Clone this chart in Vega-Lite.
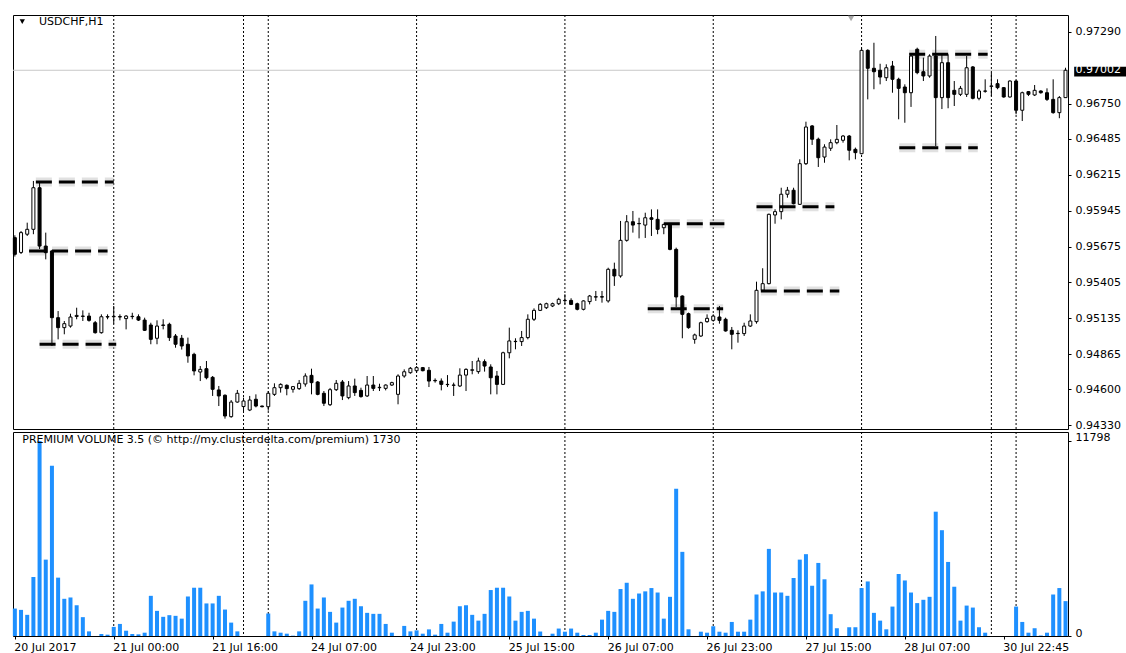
{
  "$schema": "https://vega.github.io/schema/vega-lite/v6.json",
  "padding": {"left": 12, "top": 14, "right": 0, "bottom": 0},
  "background": "white",
  "spacing": 3,
  "bounds": "flush",
  "config": {
    "view": {"stroke": "black", "strokeWidth": 1},
    "font": "DejaVu Sans",
    "axis": {"labelFont": "DejaVu Sans", "labelFontSize": 11, "labelColor": "black", "tickColor": "black", "tickSize": 3, "domain": false, "grid": false}
  },
  "datasets": {
    "bars": [
      {"i":0,"o":0.95742,"h":0.9576,"l":0.956,"c":0.95617,"v":1660},
      {"i":1,"o":0.95631,"h":0.95792,"l":0.95619,"c":0.9578,"v":1580},
      {"i":2,"o":0.95768,"h":0.95855,"l":0.95755,"c":0.95805,"v":1280},
      {"i":3,"o":0.95805,"h":0.96169,"l":0.95768,"c":0.96118,"v":3570},
      {"i":4,"o":0.96118,"h":0.96156,"l":0.95657,"c":0.95679,"v":11798},
      {"i":5,"o":0.95679,"h":0.9578,"l":0.95579,"c":0.95629,"v":4620},
      {"i":6,"o":0.95642,"h":0.9565,"l":0.94927,"c":0.9514,"v":10300},
      {"i":7,"o":0.9514,"h":0.9519,"l":0.94977,"c":0.95065,"v":3530},
      {"i":8,"o":0.95065,"h":0.95115,"l":0.95015,"c":0.95095,"v":2250},
      {"i":9,"o":0.95077,"h":0.9517,"l":0.95065,"c":0.95145,"v":2330},
      {"i":10,"o":0.95149,"h":0.95215,"l":0.95128,"c":0.95157,"v":1860},
      {"i":11,"o":0.95152,"h":0.95195,"l":0.95115,"c":0.9515,"v":1140},
      {"i":12,"o":0.95152,"h":0.95177,"l":0.9511,"c":0.9512,"v":280},
      {"i":13,"o":0.95102,"h":0.95115,"l":0.9502,"c":0.95027,"v":0},
      {"i":14,"o":0.95027,"h":0.95165,"l":0.9502,"c":0.95147,"v":120},
      {"i":15,"o":0.95145,"h":0.95165,"l":0.95128,"c":0.95148,"v":80},
      {"i":16,"o":0.95147,"h":0.95228,"l":0.95095,"c":0.9515,"v":550},
      {"i":17,"o":0.95148,"h":0.95165,"l":0.9512,"c":0.95145,"v":730},
      {"i":18,"o":0.95133,"h":0.9516,"l":0.95052,"c":0.95152,"v":320},
      {"i":19,"o":0.95148,"h":0.95177,"l":0.95128,"c":0.9515,"v":120},
      {"i":20,"o":0.95147,"h":0.95165,"l":0.95115,"c":0.95122,"v":100},
      {"i":21,"o":0.95122,"h":0.9514,"l":0.9504,"c":0.95045,"v":200},
      {"i":22,"o":0.95085,"h":0.95102,"l":0.9494,"c":0.94977,"v":2430},
      {"i":23,"o":0.94985,"h":0.9512,"l":0.9494,"c":0.95077,"v":1520},
      {"i":24,"o":0.95085,"h":0.95128,"l":0.95052,"c":0.95082,"v":1160},
      {"i":25,"o":0.9509,"h":0.95102,"l":0.94965,"c":0.9499,"v":1260},
      {"i":26,"o":0.95002,"h":0.95017,"l":0.94914,"c":0.9494,"v":1220},
      {"i":27,"o":0.94985,"h":0.9501,"l":0.949,"c":0.94927,"v":1050},
      {"i":28,"o":0.9494,"h":0.9499,"l":0.94801,"c":0.94852,"v":2390},
      {"i":29,"o":0.94864,"h":0.94876,"l":0.94706,"c":0.94739,"v":2920},
      {"i":30,"o":0.94731,"h":0.94776,"l":0.94663,"c":0.94751,"v":2920},
      {"i":31,"o":0.94756,"h":0.94814,"l":0.94676,"c":0.94688,"v":1970},
      {"i":32,"o":0.94691,"h":0.94701,"l":0.94551,"c":0.94601,"v":1970},
      {"i":33,"o":0.94596,"h":0.94626,"l":0.94475,"c":0.94551,"v":2430},
      {"i":34,"o":0.94556,"h":0.94563,"l":0.9438,"c":0.944,"v":1600},
      {"i":35,"o":0.94395,"h":0.9452,"l":0.94387,"c":0.94505,"v":810},
      {"i":36,"o":0.94505,"h":0.94596,"l":0.945,"c":0.94571,"v":280},
      {"i":37,"o":0.94471,"h":0.94538,"l":0.94437,"c":0.94513,"v":0},
      {"i":38,"o":0.94445,"h":0.94551,"l":0.94437,"c":0.9452,"v":0},
      {"i":39,"o":0.94526,"h":0.94563,"l":0.94465,"c":0.94475,"v":0},
      {"i":40,"o":0.94475,"h":0.94478,"l":0.94465,"c":0.9447,"v":0},
      {"i":41,"o":0.9447,"h":0.94588,"l":0.9444,"c":0.94571,"v":1360},
      {"i":42,"o":0.94563,"h":0.94646,"l":0.94551,"c":0.94613,"v":280},
      {"i":43,"o":0.94613,"h":0.94646,"l":0.94576,"c":0.94638,"v":200},
      {"i":44,"o":0.94631,"h":0.94638,"l":0.94556,"c":0.94606,"v":140},
      {"i":45,"o":0.94601,"h":0.94626,"l":0.94576,"c":0.94621,"v":20},
      {"i":46,"o":0.94606,"h":0.94671,"l":0.94596,"c":0.94646,"v":280},
      {"i":47,"o":0.94641,"h":0.94721,"l":0.94621,"c":0.94701,"v":2130},
      {"i":48,"o":0.94706,"h":0.94756,"l":0.94563,"c":0.94651,"v":3120},
      {"i":49,"o":0.94656,"h":0.94663,"l":0.94556,"c":0.94563,"v":1660},
      {"i":50,"o":0.94571,"h":0.94588,"l":0.94475,"c":0.94496,"v":2330},
      {"i":51,"o":0.94485,"h":0.94611,"l":0.94475,"c":0.94598,"v":1460},
      {"i":52,"o":0.94598,"h":0.94671,"l":0.94588,"c":0.94646,"v":810},
      {"i":53,"o":0.94656,"h":0.94671,"l":0.9452,"c":0.94551,"v":1720},
      {"i":54,"o":0.94538,"h":0.94663,"l":0.94526,"c":0.94626,"v":2130},
      {"i":55,"o":0.94626,"h":0.94681,"l":0.94551,"c":0.94576,"v":2250},
      {"i":56,"o":0.94593,"h":0.94613,"l":0.94538,"c":0.94546,"v":1800},
      {"i":57,"o":0.94551,"h":0.94701,"l":0.94543,"c":0.94633,"v":1400},
      {"i":58,"o":0.94633,"h":0.94701,"l":0.94588,"c":0.94608,"v":1340},
      {"i":59,"o":0.94613,"h":0.94643,"l":0.94588,"c":0.94616,"v":1340},
      {"i":60,"o":0.94608,"h":0.94638,"l":0.94593,"c":0.94633,"v":730},
      {"i":61,"o":0.94633,"h":0.94658,"l":0.94626,"c":0.94651,"v":200},
      {"i":62,"o":0.94563,"h":0.94714,"l":0.94488,"c":0.94701,"v":0},
      {"i":63,"o":0.94701,"h":0.94751,"l":0.94688,"c":0.94733,"v":610},
      {"i":64,"o":0.94726,"h":0.94769,"l":0.94718,"c":0.94759,"v":280},
      {"i":65,"o":0.94741,"h":0.94776,"l":0.94726,"c":0.94764,"v":340},
      {"i":66,"o":0.94764,"h":0.94769,"l":0.94736,"c":0.94741,"v":140},
      {"i":67,"o":0.94744,"h":0.94769,"l":0.94618,"c":0.94663,"v":400},
      {"i":68,"o":0.94668,"h":0.94683,"l":0.94651,"c":0.94665,"v":80},
      {"i":69,"o":0.94663,"h":0.94683,"l":0.94593,"c":0.94638,"v":730},
      {"i":70,"o":0.94638,"h":0.94708,"l":0.94618,"c":0.94636,"v":200},
      {"i":71,"o":0.94631,"h":0.94651,"l":0.94551,"c":0.94633,"v":870},
      {"i":72,"o":0.94626,"h":0.94759,"l":0.94618,"c":0.94708,"v":1800},
      {"i":73,"o":0.94708,"h":0.94759,"l":0.94588,"c":0.94751,"v":1860},
      {"i":74,"o":0.94744,"h":0.94814,"l":0.94714,"c":0.94748,"v":1280},
      {"i":75,"o":0.94734,"h":0.94839,"l":0.94718,"c":0.94814,"v":930},
      {"i":76,"o":0.94809,"h":0.94826,"l":0.94734,"c":0.94776,"v":1340},
      {"i":77,"o":0.94769,"h":0.94789,"l":0.94563,"c":0.94688,"v":2780},
      {"i":78,"o":0.94701,"h":0.94739,"l":0.94563,"c":0.94638,"v":2920},
      {"i":79,"o":0.94638,"h":0.94884,"l":0.94633,"c":0.94876,"v":2920},
      {"i":80,"o":0.94876,"h":0.95065,"l":0.94834,"c":0.94965,"v":2390},
      {"i":81,"o":0.9496,"h":0.94985,"l":0.94902,"c":0.94962,"v":930},
      {"i":82,"o":0.9496,"h":0.9504,"l":0.94927,"c":0.9499,"v":1460},
      {"i":83,"o":0.9499,"h":0.95165,"l":0.94977,"c":0.95128,"v":1520},
      {"i":84,"o":0.95128,"h":0.9521,"l":0.95115,"c":0.95195,"v":1050},
      {"i":85,"o":0.95195,"h":0.9525,"l":0.9519,"c":0.9524,"v":270},
      {"i":86,"o":0.95215,"h":0.95253,"l":0.95205,"c":0.95245,"v":0},
      {"i":87,"o":0.95228,"h":0.95253,"l":0.9522,"c":0.95245,"v":140},
      {"i":88,"o":0.95245,"h":0.9529,"l":0.95235,"c":0.95278,"v":450},
      {"i":89,"o":0.95268,"h":0.95316,"l":0.9524,"c":0.9527,"v":260},
      {"i":90,"o":0.9527,"h":0.95286,"l":0.95235,"c":0.9524,"v":450},
      {"i":91,"o":0.95245,"h":0.95253,"l":0.95195,"c":0.95203,"v":200},
      {"i":92,"o":0.95203,"h":0.95271,"l":0.95195,"c":0.95266,"v":60},
      {"i":93,"o":0.95261,"h":0.95311,"l":0.9524,"c":0.95303,"v":60},
      {"i":94,"o":0.95295,"h":0.95341,"l":0.95266,"c":0.95298,"v":200},
      {"i":95,"o":0.95298,"h":0.95341,"l":0.95253,"c":0.95295,"v":990},
      {"i":96,"o":0.95266,"h":0.95516,"l":0.95253,"c":0.95504,"v":1520},
      {"i":97,"o":0.95504,"h":0.95554,"l":0.95379,"c":0.95454,"v":1460},
      {"i":98,"o":0.95454,"h":0.95868,"l":0.95441,"c":0.95722,"v":2840},
      {"i":99,"o":0.95722,"h":0.95912,"l":0.95712,"c":0.95862,"v":3220},
      {"i":100,"o":0.95862,"h":0.95943,"l":0.9578,"c":0.95837,"v":2250},
      {"i":101,"o":0.95847,"h":0.95892,"l":0.95737,"c":0.95849,"v":2570},
      {"i":102,"o":0.95837,"h":0.9593,"l":0.9574,"c":0.95892,"v":2700},
      {"i":103,"o":0.95892,"h":0.95955,"l":0.95755,"c":0.9588,"v":2900},
      {"i":104,"o":0.9588,"h":0.95955,"l":0.95768,"c":0.95805,"v":2630},
      {"i":105,"o":0.95817,"h":0.95847,"l":0.95768,"c":0.95842,"v":1050},
      {"i":106,"o":0.95837,"h":0.95847,"l":0.95647,"c":0.95654,"v":2370},
      {"i":107,"o":0.95654,"h":0.95667,"l":0.9522,"c":0.95296,"v":8900},
      {"i":108,"o":0.95303,"h":0.95308,"l":0.94985,"c":0.95165,"v":5090},
      {"i":109,"o":0.9517,"h":0.95178,"l":0.95057,"c":0.95065,"v":405},
      {"i":110,"o":0.94977,"h":0.9502,"l":0.94944,"c":0.9501,"v":0},
      {"i":111,"o":0.95002,"h":0.9511,"l":0.94995,"c":0.95102,"v":260},
      {"i":112,"o":0.9511,"h":0.95165,"l":0.95102,"c":0.95135,"v":200},
      {"i":113,"o":0.9512,"h":0.95165,"l":0.9511,"c":0.95152,"v":590},
      {"i":114,"o":0.95145,"h":0.95228,"l":0.95095,"c":0.9512,"v":260},
      {"i":115,"o":0.95128,"h":0.9514,"l":0.95035,"c":0.9504,"v":200},
      {"i":116,"o":0.95045,"h":0.9507,"l":0.94902,"c":0.95015,"v":850},
      {"i":117,"o":0.9502,"h":0.95045,"l":0.94952,"c":0.95022,"v":260},
      {"i":118,"o":0.9502,"h":0.95102,"l":0.95002,"c":0.95077,"v":260},
      {"i":119,"o":0.95077,"h":0.95165,"l":0.9507,"c":0.95115,"v":990},
      {"i":120,"o":0.9511,"h":0.95411,"l":0.95095,"c":0.95346,"v":2510},
      {"i":121,"o":0.95346,"h":0.95512,"l":0.95341,"c":0.95396,"v":2700},
      {"i":122,"o":0.95396,"h":0.95923,"l":0.95391,"c":0.95918,"v":5270},
      {"i":123,"o":0.95913,"h":0.95956,"l":0.95847,"c":0.95938,"v":2630},
      {"i":124,"o":0.95938,"h":0.96118,"l":0.9588,"c":0.96069,"v":2630},
      {"i":125,"o":0.96069,"h":0.96124,"l":0.96043,"c":0.96099,"v":2430},
      {"i":126,"o":0.96099,"h":0.96118,"l":0.95993,"c":0.95998,"v":3510},
      {"i":127,"o":0.95993,"h":0.96332,"l":0.95988,"c":0.96299,"v":4620},
      {"i":128,"o":0.96299,"h":0.96615,"l":0.96289,"c":0.96575,"v":4950},
      {"i":129,"o":0.96583,"h":0.9659,"l":0.9644,"c":0.96483,"v":3040},
      {"i":130,"o":0.96483,"h":0.96495,"l":0.96274,"c":0.96344,"v":4420},
      {"i":131,"o":0.96349,"h":0.96445,"l":0.96306,"c":0.96424,"v":3430},
      {"i":132,"o":0.96415,"h":0.96482,"l":0.96395,"c":0.96457,"v":1320},
      {"i":133,"o":0.96457,"h":0.9659,"l":0.96445,"c":0.96482,"v":470},
      {"i":134,"o":0.96475,"h":0.96515,"l":0.96457,"c":0.96507,"v":0},
      {"i":135,"o":0.96507,"h":0.96515,"l":0.96324,"c":0.964,"v":530},
      {"i":136,"o":0.96407,"h":0.9642,"l":0.96332,"c":0.96382,"v":530},
      {"i":137,"o":0.96374,"h":0.97172,"l":0.9637,"c":0.97152,"v":2900},
      {"i":138,"o":0.97152,"h":0.9716,"l":0.96783,"c":0.97017,"v":3300},
      {"i":139,"o":0.97017,"h":0.97209,"l":0.96859,"c":0.96991,"v":1400},
      {"i":140,"o":0.97002,"h":0.97051,"l":0.96896,"c":0.96951,"v":930},
      {"i":141,"o":0.96946,"h":0.97047,"l":0.96921,"c":0.97021,"v":405},
      {"i":142,"o":0.97034,"h":0.97072,"l":0.96833,"c":0.96934,"v":1780},
      {"i":143,"o":0.96934,"h":0.96946,"l":0.96633,"c":0.96866,"v":3750},
      {"i":144,"o":0.96876,"h":0.96896,"l":0.96607,"c":0.96833,"v":3360},
      {"i":145,"o":0.96833,"h":0.97117,"l":0.96726,"c":0.97109,"v":2630},
      {"i":146,"o":0.9716,"h":0.97172,"l":0.96972,"c":0.96984,"v":1990},
      {"i":147,"o":0.96991,"h":0.97097,"l":0.96921,"c":0.96959,"v":2190},
      {"i":148,"o":0.96959,"h":0.97122,"l":0.96946,"c":0.97109,"v":2370},
      {"i":149,"o":0.97109,"h":0.9726,"l":0.96432,"c":0.96796,"v":7520},
      {"i":150,"o":0.96796,"h":0.97117,"l":0.9671,"c":0.97059,"v":6400},
      {"i":151,"o":0.97059,"h":0.97122,"l":0.96716,"c":0.96796,"v":4480},
      {"i":152,"o":0.96851,"h":0.96921,"l":0.96733,"c":0.96821,"v":2980},
      {"i":153,"o":0.96821,"h":0.96884,"l":0.96808,"c":0.96866,"v":930},
      {"i":154,"o":0.96821,"h":0.97109,"l":0.96801,"c":0.97021,"v":1840},
      {"i":155,"o":0.97027,"h":0.97034,"l":0.96783,"c":0.96791,"v":1720},
      {"i":156,"o":0.96791,"h":0.96859,"l":0.96776,"c":0.96846,"v":530},
      {"i":157,"o":0.96844,"h":0.96934,"l":0.96833,"c":0.96846,"v":200},
      {"i":158,"o":0.96881,"h":0.96984,"l":0.96808,"c":0.96884,"v":0},
      {"i":159,"o":0.96901,"h":0.96934,"l":0.96859,"c":0.96871,"v":0},
      {"i":160,"o":0.96871,"h":0.96876,"l":0.96796,"c":0.96801,"v":0},
      {"i":161,"o":0.96801,"h":0.96926,"l":0.96796,"c":0.96921,"v":0},
      {"i":162,"o":0.96921,"h":0.96926,"l":0.96671,"c":0.96701,"v":1780},
      {"i":163,"o":0.96701,"h":0.96841,"l":0.9662,"c":0.96833,"v":850},
      {"i":164,"o":0.96841,"h":0.96846,"l":0.96808,"c":0.96821,"v":200},
      {"i":165,"o":0.96816,"h":0.96891,"l":0.96808,"c":0.96851,"v":470},
      {"i":166,"o":0.96846,"h":0.96851,"l":0.96826,"c":0.96833,"v":30},
      {"i":167,"o":0.96833,"h":0.96866,"l":0.96771,"c":0.96783,"v":200},
      {"i":168,"o":0.96783,"h":0.96934,"l":0.96675,"c":0.96683,"v":2510},
      {"i":169,"o":0.96683,"h":0.96808,"l":0.96641,"c":0.96796,"v":2900},
      {"i":170,"o":0.96796,"h":0.97021,"l":0.96796,"c":0.97002,"v":2110}
    ],
    "levels": [
      {"a":3.4,"b":16,"p":0.96161},
      {"a":2.3,"b":15,"p":0.95642},
      {"a":4,"b":16.4,"p":0.9494},
      {"a":105,"b":114.8,"p":0.95847},
      {"a":102.4,"b":114.6,"p":0.95208},
      {"a":120,"b":132.6,"p":0.95975},
      {"a":120.7,"b":133.4,"p":0.95341},
      {"a":144.7,"b":157.4,"p":0.97122},
      {"a":143.1,"b":155.8,"p":0.96419}
    ],
    "seps": [{"i":16},{"i":37},{"i":41},{"i":65},{"i":89},{"i":113},{"i":137},{"i":158},{"i":162}]
  },
  "vconcat": [
    {
      "width": 1055,
      "height": 414,
      "layer": [
        {
          "data": {"values": [{"p": 0.97002}]},
          "mark": {"type": "rule", "color": "#c8c8c8", "strokeWidth": 1},
          "encoding": {
            "y": {"field": "p", "type": "quantitative", "scale": {"domain": [0.943022, 0.974179], "nice": false, "zero": false},
                  "axis": {"orient": "right", "title": null, "values": [0.9729, 0.9675, 0.96485, 0.96215, 0.95945, 0.95675, 0.95405, 0.95135, 0.94865, 0.946, 0.9433], "format": ".5f", "labelPadding": 4, "labelOverlap": false}}
          }
        },
        {
          "data": {"name": "seps"},
          "mark": {"type": "rule", "color": "black", "strokeWidth": 1, "strokeDash": [2, 2]},
          "encoding": {
            "x": {"field": "i", "type": "quantitative", "scale": {"domain": [-0.3, 170.4], "nice": false, "zero": false, "padding": 0}, "axis": null}
          }
        },
        {
          "data": {"name": "levels"},
          "mark": {"type": "rule", "color": "#bdbdbd", "opacity": 0.45, "strokeWidth": 9, "strokeDash": [16, 7]},
          "encoding": {
            "x": {"field": "a", "type": "quantitative", "scale": {"domain": [-0.3, 170.4], "nice": false, "zero": false, "padding": 0}, "axis": null},
            "x2": {"field": "b"},
            "y": {"field": "p", "type": "quantitative", "scale": {"domain": [0.943022, 0.974179], "nice": false, "zero": false}, "title": null}
          }
        },
        {
          "data": {"name": "bars"},
          "mark": {"type": "rule", "color": "black", "strokeWidth": 1},
          "encoding": {
            "x": {"field": "i", "type": "quantitative", "scale": {"domain": [-0.3, 170.4], "nice": false, "zero": false, "padding": 0}, "axis": null},
            "y": {"field": "l", "type": "quantitative", "scale": {"domain": [0.943022, 0.974179], "nice": false, "zero": false}, "title": null},
            "y2": {"field": "h"}
          }
        },
        {
          "data": {"name": "bars"},
          "mark": {"type": "bar", "size": 3, "stroke": "black", "strokeWidth": 1},
          "encoding": {
            "x": {"field": "i", "type": "quantitative", "scale": {"domain": [-0.3, 170.4], "nice": false, "zero": false, "padding": 0}, "axis": null},
            "y": {"field": "o", "type": "quantitative", "scale": {"domain": [0.943022, 0.974179], "nice": false, "zero": false}, "title": null},
            "y2": {"field": "c"},
            "fill": {"condition": {"test": "datum.c < datum.o", "value": "black"}, "value": "white"}
          }
        },
        {
          "data": {"name": "levels"},
          "mark": {"type": "rule", "color": "black", "strokeWidth": 3, "strokeDash": [16, 7]},
          "encoding": {
            "x": {"field": "a", "type": "quantitative", "scale": {"domain": [-0.3, 170.4], "nice": false, "zero": false, "padding": 0}, "axis": null},
            "x2": {"field": "b"},
            "y": {"field": "p", "type": "quantitative", "scale": {"domain": [0.943022, 0.974179], "nice": false, "zero": false}, "title": null}
          }
        },
        {
          "data": {"values": [{"s": "USDCHF,H1"}]},
          "mark": {"type": "text", "align": "left", "baseline": "middle", "fontSize": 11, "font": "DejaVu Sans", "color": "black"},
          "encoding": {
            "x": {"datum": 3.9, "type": "quantitative", "scale": {"domain": [-0.3, 170.4], "nice": false, "zero": false, "padding": 0}, "axis": null},
            "y": {"datum": 0.97365, "type": "quantitative", "scale": {"domain": [0.943022, 0.974179], "nice": false, "zero": false}, "title": null},
            "text": {"field": "s"}
          }
        },
        {
          "data": {"values": [{"s": "menu"}]},
          "mark": {"type": "point", "shape": "triangle-down", "filled": true, "opacity": 1, "color": "black", "size": 28},
          "encoding": {
            "x": {"datum": 1.2, "type": "quantitative", "scale": {"domain": [-0.3, 170.4], "nice": false, "zero": false, "padding": 0}, "axis": null},
            "y": {"datum": 0.97368, "type": "quantitative", "scale": {"domain": [0.943022, 0.974179], "nice": false, "zero": false}, "title": null}
          }
        },
        {
          "data": {"values": [{"s": "shift"}]},
          "mark": {"type": "point", "shape": "triangle-down", "filled": true, "opacity": 1, "color": "#a8a8a8", "size": 40},
          "encoding": {
            "x": {"datum": 135.3, "type": "quantitative", "scale": {"domain": [-0.3, 170.4], "nice": false, "zero": false, "padding": 0}, "axis": null},
            "y": {"datum": 0.97392, "type": "quantitative", "scale": {"domain": [0.943022, 0.974179], "nice": false, "zero": false}, "title": null}
          }
        },
        {
          "data": {"values": [{"p": 0.97002}]},
          "mark": {"type": "rect", "color": "black", "clip": false},
          "encoding": {
            "x": {"datum": 171.4, "type": "quantitative", "scale": {"domain": [-0.3, 170.4], "nice": false, "zero": false, "padding": 0}, "axis": null},
            "x2": {"datum": 179.9},
            "y": {"datum": 0.97029, "type": "quantitative", "scale": {"domain": [0.943022, 0.974179], "nice": false, "zero": false}, "title": null},
            "y2": {"datum": 0.96955}
          }
        },
        {
          "data": {"values": [{"p": 0.97002}]},
          "mark": {"type": "text", "align": "left", "baseline": "middle", "fontSize": 11, "font": "DejaVu Sans", "color": "white", "clip": false},
          "encoding": {
            "x": {"datum": 171.6, "type": "quantitative", "scale": {"domain": [-0.3, 170.4], "nice": false, "zero": false, "padding": 0}, "axis": null},
            "y": {"field": "p", "type": "quantitative", "scale": {"domain": [0.943022, 0.974179], "nice": false, "zero": false}, "title": null},
            "text": {"field": "p", "type": "quantitative", "format": ".5f"}
          }
        }
      ]
    },
    {
      "width": 1055,
      "height": 204,
      "layer": [
        {
          "data": {"name": "seps"},
          "mark": {"type": "rule", "color": "black", "strokeWidth": 1, "strokeDash": [2, 2]},
          "encoding": {
            "x": {"field": "i", "type": "quantitative", "scale": {"domain": [-0.3, 170.4], "nice": false, "zero": false, "padding": 0}, "title": null,
                  "axis": {"orient": "bottom", "values": [0, 16, 32, 48, 64, 80, 96, 112, 128, 144, 160],
                           "labelExpr": "['20 Jul 2017','21 Jul 00:00','21 Jul 16:00','24 Jul 07:00','24 Jul 23:00','25 Jul 15:00','26 Jul 07:00','26 Jul 23:00','27 Jul 15:00','28 Jul 07:00','30 Jul 22:45'][round(datum.value/16)]",
                           "labelAlign": "left", "labelBaseline": "top", "labelPadding": 2, "labelFlush": false, "labelOverlap": false, "labelOffset": -1}}
          }
        },
        {
          "data": {"name": "bars"},
          "mark": {"type": "bar", "size": 4, "color": "#1E90FF"},
          "encoding": {
            "x": {"field": "i", "type": "quantitative", "scale": {"domain": [-0.3, 170.4], "nice": false, "zero": false, "padding": 0}, "title": null},
            "y": {"field": "v", "type": "quantitative", "scale": {"domain": [0, 12340], "nice": false}, "title": null,
                  "axis": {"orient": "right", "values": [0, 11798], "format": "d", "labelBaseline": "alphabetic", "labelPadding": 4}}
          }
        },
        {
          "data": {"values": [{"s": "PREMIUM VOLUME 3.5 (© http://my.clusterdelta.com/premium) 1730"}]},
          "mark": {"type": "text", "align": "left", "baseline": "middle", "fontSize": 11, "font": "DejaVu Sans", "color": "black"},
          "encoding": {
            "x": {"datum": 1.2, "type": "quantitative", "scale": {"domain": [-0.3, 170.4], "nice": false, "zero": false, "padding": 0}, "title": null},
            "y": {"datum": 11860, "type": "quantitative", "scale": {"domain": [0, 12340], "nice": false}, "title": null},
            "text": {"field": "s"}
          }
        }
      ]
    }
  ]
}
